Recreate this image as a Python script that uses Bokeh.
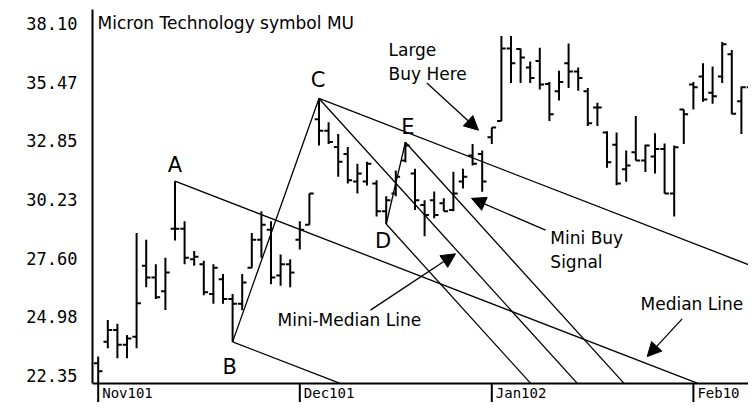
from bokeh.plotting import figure
from bokeh.models import Range1d, FixedTicker, Arrow, NormalHead, ColumnDataSource
from bokeh.core.properties import value
from bokeh.embed import file_html
from bokeh.resources import INLINE

# ---- data (Micron Technology, daily bars, trading-day index from 1 Nov 2001) ----
month_tick_idx = [0, 21, 41, 62]
month_labels = ["Nov101", "Dec101", "Jan102", "Feb10"]
y_ticks = [22.35, 24.98, 27.60, 30.23, 32.85, 35.47, 38.10]
y_tick_labels = ["22.35", "24.98", "27.60", "30.23", "32.85", "35.47", "38.10"]

open_ = [22.89, 23.85, 24.38, 23.72, 24.08, 27.26, 26.73, 26.11, 28.91, 28.91,
         27.54, 27.32, 25.99, 26.65, 25.77, 25.55, 27.17, 28.42, 28.87, 26.82,
         27.32, 28.42, 29.09, 33.81, 33.29, 32.57, 32.26, 31.02, 31.02, 30.93,
         29.69, 30.49, 31.96, 31.38, 29.97, 30.19, 30.05, 29.75, 31.02, 32.19,
         32.26, 33.00, 33.73, 36.98, 36.95, 36.13, 36.42, 35.39, 35.06, 36.32,
         35.95, 35.06, 34.33, 33.22, 32.67, 31.57, 32.33, 31.96, 32.14, 32.48,
         30.49, 34.25, 35.36, 35.72, 34.99, 35.72, 36.72, 34.62, 35.24]
high = [23.19, 24.83, 24.66, 24.16, 28.72, 28.42, 27.32, 27.61, 31.04, 29.25,
        27.92, 27.48, 27.32, 26.88, 25.99, 26.88, 28.72, 29.69, 29.25, 27.76,
        27.54, 29.25, 30.49, 34.74, 33.68, 33.15, 32.57, 31.82, 31.91, 31.08,
        30.36, 31.52, 32.78, 31.60, 30.19, 30.58, 30.27, 31.46, 31.60, 32.70,
        32.41, 33.44, 37.53, 37.53, 36.98, 36.39, 37.01, 35.48, 35.98, 37.20,
        36.13, 35.21, 34.55, 33.27, 33.22, 32.41, 33.95, 32.67, 33.18, 32.73,
        32.63, 34.25, 35.48, 36.32, 36.17, 37.27, 36.91, 35.28, 38.23]
low = [22.01, 23.56, 23.12, 23.12, 23.56, 26.29, 25.77, 25.27, 28.38, 27.32,
       27.26, 25.93, 25.55, 25.55, 23.85, 25.26, 27.17, 27.61, 26.43, 26.36,
       26.29, 27.98, 29.09, 32.63, 32.70, 31.24, 30.93, 30.49, 30.85, 29.46,
       29.12, 30.36, 31.89, 29.75, 28.58, 29.38, 29.69, 29.69, 30.71, 31.74,
       30.57, 32.70, 33.73, 35.43, 35.43, 35.43, 35.14, 33.73, 34.65, 35.21,
       35.09, 33.51, 33.51, 31.64, 30.86, 31.01, 31.96, 31.45, 31.38, 30.49,
       29.46, 32.70, 34.25, 34.59, 34.50, 35.43, 34.03, 33.15, 35.21]
close = [22.53, 24.38, 23.72, 24.00, 25.58, 26.73, 25.84, 26.95, 28.91, 27.61,
         27.66, 26.07, 27.17, 25.77, 25.55, 26.51, 28.42, 29.09, 26.73, 27.32,
         26.95, 28.87, 30.49, 33.29, 32.79, 31.91, 31.08, 31.38, 31.82, 29.69,
         30.19, 31.24, 32.63, 30.19, 29.53, 29.53, 29.69, 30.49, 31.24, 31.82,
         31.02, 33.44, 36.98, 36.32, 36.57, 35.65, 35.36, 34.03, 35.48, 35.95,
         35.65, 33.63, 34.33, 31.89, 30.93, 31.74, 31.96, 32.63, 32.48, 30.49,
         32.56, 34.03, 35.24, 34.69, 34.84, 37.16, 34.06, 35.24, 38.10]

# pivot points of the pitchforks: (name, bar index, uses high or low)
pivot_names = ["A", "B", "C", "D", "E"]
pivot_idx = [8, 14, 23, 30, 32]
pivot_side = ["H", "L", "H", "L", "H"]

title_text = "Micron Technology symbol MU"

# price level at which the time axis is drawn
axis_price = 21.99
Y_LO, Y_HI = 21.136, 38.72

# ---- figure ----
FONT = "DejaVu Sans"
MONO = "DejaVu Sans Mono"

p = figure(width=748, height=402, output_backend="svg", toolbar_location=None,
           x_range=Range1d(-0.594, 67.74), y_range=Range1d(Y_LO, Y_HI),
           min_border_left=92, min_border_right=0, min_border_top=9, min_border_bottom=0)
p.outline_line_color = None
p.xgrid.visible = False
p.ygrid.visible = False
p.background_fill_color = "white"
p.border_fill_color = "white"

idx = list(range(len(high)))
src = ColumnDataSource(dict(x=idx, o=open_, h=high, l=low, c=close,
                            xo=[i - 0.45 for i in idx], xc=[i + 0.45 for i in idx]))
p.segment(x0="x", y0="l", x1="x", y1="h", source=src, line_color="black", line_width=2)
p.segment(x0="xo", y0="o", x1="x", y1="o", source=src, line_color="black", line_width=2)
p.segment(x0="x", y0="c", x1="xc", y1="c", source=src, line_color="black", line_width=2)

# ---- pitchforks ----
pts = {}
for n, i, s in zip(pivot_names, pivot_idx, pivot_side):
    pts[n] = (i, high[i] if s == "H" else low[i])
A, B, C, D, E = (pts[k] for k in pivot_names)

def ray(pt, slope):
    # from the pivot down to the time axis
    x_end = pt[0] + (axis_price - pt[1]) / slope
    return (pt[0], pt[1], x_end, axis_price)

mBC = ((B[0] + C[0]) / 2, (B[1] + C[1]) / 2)
s1 = (mBC[1] - A[1]) / (mBC[0] - A[0])
mDE = ((D[0] + E[0]) / 2, (D[1] + E[1]) / 2)
s2 = (mDE[1] - C[1]) / (mDE[0] - C[0])
segs = [ray(A, s1), ray(B, s1), ray(C, s1), (B[0], B[1], C[0], C[1]),
        ray(C, s2), ray(D, s2), ray(E, s2), (D[0], D[1], E[0], E[1])]
p.segment(x0=[s[0] for s in segs], y0=[s[1] for s in segs],
          x1=[s[2] for s in segs], y1=[s[3] for s in segs],
          line_color="black", line_width=1.3)

# pivot letters
lab_dx = [0, -3, -1, -3, 2.5]
lab_dy = [-16, 25, -18, 17, -15]
p.text(x=[pts[n][0] for n in pivot_names], y=[pts[n][1] for n in pivot_names],
       text=pivot_names, x_offset=lab_dx, y_offset=lab_dy,
       text_font=value(FONT), text_font_size="21px", text_align="center",
       text_baseline="middle", text_color="black")

# ---- annotations ----
ann_text = ["Large", "Buy Here", "Mini Buy", "Signal", "Mini-Median Line", "Median Line"]
ann_x = [30.24, 30.24, 47.1, 47.1, 18.68, 56.49]
ann_y = [36.91, 35.84, 28.50, 27.44, 24.84, 25.55]
p.text(x=ann_x, y=ann_y, text=ann_text, text_font=value(FONT), text_font_size="17px",
       text_align="left", text_baseline="middle", text_color="black")
p.text(x=[-0.07], y=[38.10], text=[title_text], text_font=value(FONT),
       text_font_size="17px", text_align="left", text_baseline="middle", text_color="black")

arrows = [(34.24, 35.43, 39.61, 33.32),
          (46.6, 28.85, 38.89, 30.27),
          (28.36, 25.27, 37.22, 27.79),
          (60.83, 24.88, 57.19, 23.19)]
for x0, y0, x1, y1 in arrows:
    p.add_layout(Arrow(end=NormalHead(size=14, fill_color="black", line_color="black"),
                       x_start=x0, y_start=y0, x_end=x1, y_end=y1,
                       line_color="black", line_width=1.3))

# ---- axes ----
ya = p.yaxis[0]
ya.ticker = FixedTicker(ticks=y_ticks)
ya.major_label_overrides = {t: l for t, l in zip(y_ticks, y_tick_labels)}
ya.bounds = (axis_price, Y_HI)
ya.major_tick_out = 0
ya.major_tick_in = 0
ya.minor_tick_out = 0
ya.minor_tick_in = 0
ya.major_label_standoff = 15
ya.axis_line_width = 2
ya.axis_line_color = "black"
ya.major_label_text_font = MONO
ya.major_label_text_font_size = "17px"
ya.major_label_text_color = "black"

xa = p.xaxis[0]
xa.ticker = FixedTicker(ticks=[])
xa.fixed_location = axis_price
xa.major_tick_out = 0
xa.major_tick_in = 0
xa.minor_tick_out = 0
xa.minor_tick_in = 0
xa.axis_line_width = 2
xa.axis_line_color = "black"

# month ticks hanging below the time axis, with month names to their right
p.segment(x0=month_tick_idx, y0=[axis_price] * len(month_tick_idx),
          x1=month_tick_idx, y1=[Y_LO] * len(month_tick_idx),
          line_color="black", line_width=2)
p.text(x=month_tick_idx, y=[axis_price] * len(month_tick_idx), text=month_labels,
       x_offset=4, y_offset=2, text_font=value(MONO), text_font_size="14px",
       text_align="left", text_baseline="top", text_color="black")

open("out.html", "w").write(file_html(p, INLINE))
